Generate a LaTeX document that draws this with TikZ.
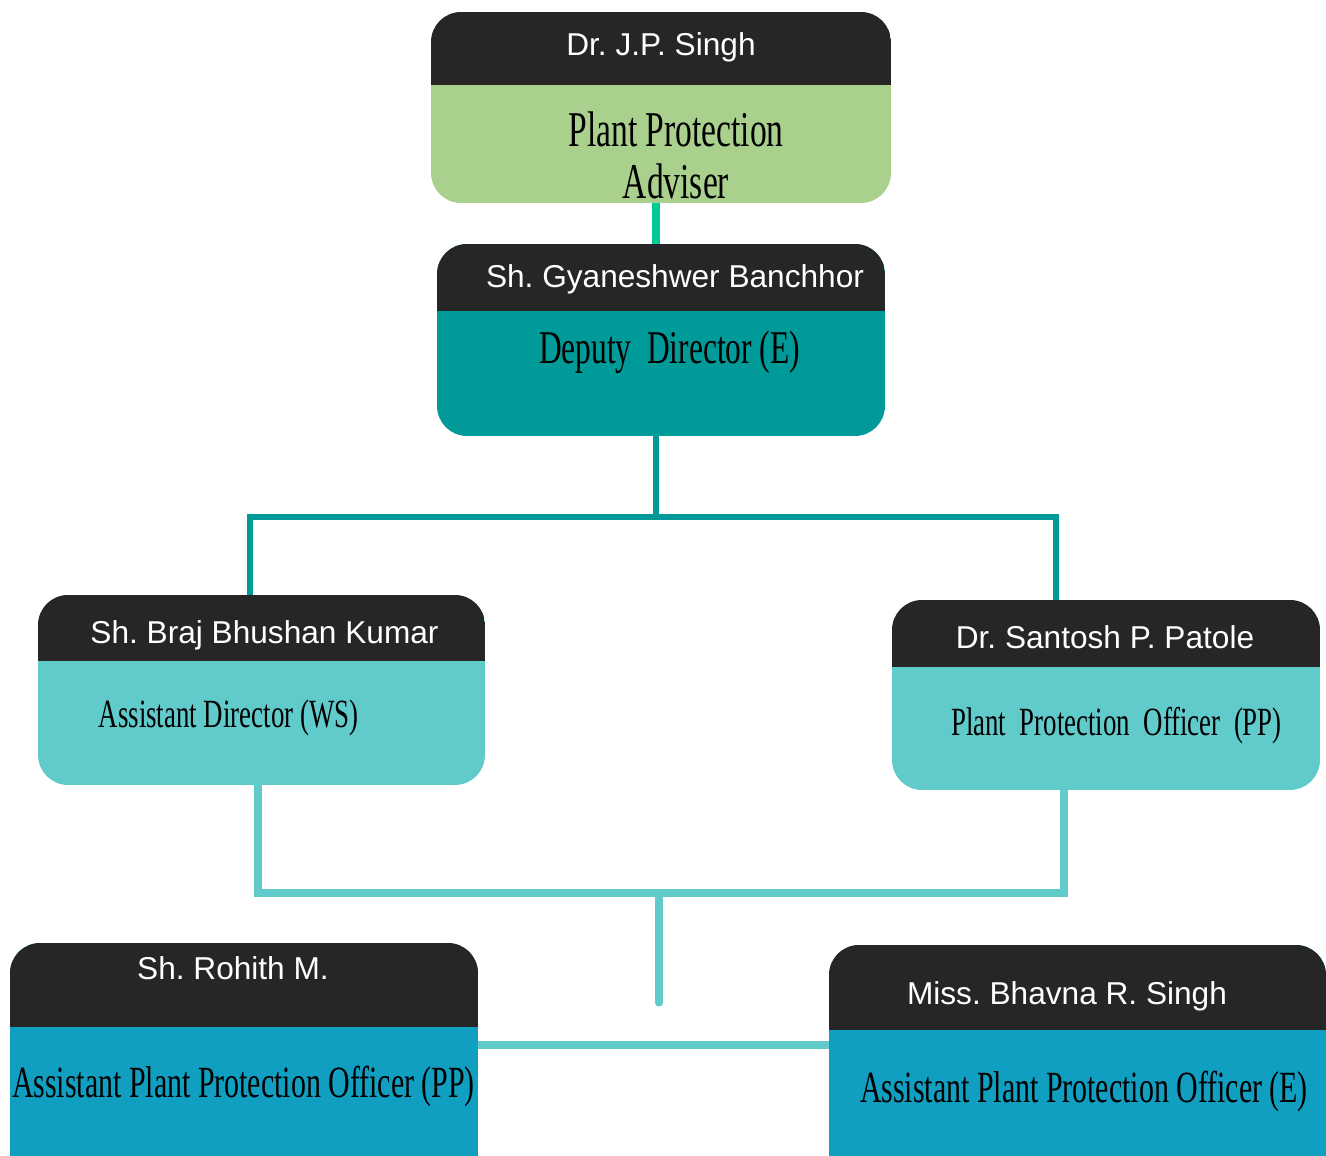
\documentclass[tikz,border=0pt]{standalone}
\usepackage{fontspec}
\setmainfont{Liberation Serif}
\newfontfamily\namefont{Liberation Sans}
\newfontfamily\postfont[FakeStretch=0.67]{Liberation Serif}
\usetikzlibrary{positioning,calc}
\definecolor{headgray}{HTML}{262626}
\definecolor{palegreen}{HTML}{AAD08E}
\definecolor{deepteal}{HTML}{009A99}
\definecolor{aqua}{HTML}{61CBCB}
\definecolor{seablue}{HTML}{119FC1}
\definecolor{linkgreen}{HTML}{00C896}
\frenchspacing

\begin{document}
\begin{tikzpicture}[x=0.02cm,y=-0.02cm,
  card/.style 2 args={fill=#1,rounded corners=0.6cm,inner sep=0pt,
    path picture={\fill[headgray,sharp corners] (path picture bounding box.north west) rectangle ([yshift=-#2]path picture bounding box.north east);}},
  personname/.style={text=white,font=\namefont\fontsize{18pt}{21pt}\selectfont,anchor=base,inner sep=0pt},
  posttext/.style={text=black,font=\postfont\fontsize{22.8pt}{26pt}\selectfont,anchor=base,inner sep=0pt,align=center},
  toplink/.style={draw=linkgreen,line width=4.4pt},
  darklink/.style={draw=deepteal,line width=3.6pt},
  lightlink/.style={draw=aqua,line width=4pt}]
\clip (0,0) rectangle (1326,1156);
% cards
\node[card={palegreen}{1.46cm},minimum width=9.2cm,minimum height=3.82cm] (ppa) at (661,107.5) {};
\node[card={deepteal}{1.34cm},minimum width=8.96cm,minimum height=3.84cm] (dd) at (661,340) {};
\node[card={aqua}{1.32cm},minimum width=8.94cm,minimum height=3.8cm] (ad) at (261.5,690) {};
\node[card={aqua}{1.34cm},minimum width=8.56cm,minimum height=3.8cm] (ppo) at (1106,695) {};
\node[card={seablue}{1.68cm},minimum width=9.36cm,minimum height=5cm] (appop) at (244,1068) {};
\node[card={seablue}{1.7cm},minimum width=9.94cm,minimum height=5cm] (appoe) at (1077.5,1070) {};
% names and posts
\node[personname] (jps) at (661,55) {Dr. J.P. Singh};
\node[posttext,font=\postfont\fontsize{28.5pt}{29.5pt}\selectfont] (jpspost) at (676,198) {Plant Protection\\Adviser};
\node[personname] (gb) at (675,287) {Sh. Gyaneshwer Banchhor};
\node[posttext,font=\postfont\fontsize{26.7pt}{28pt}\selectfont] (gbpost) at (669.5,363) {Deputy\ \ Director (E)};
\node[personname] (bbk) at (264.5,643) {Sh. Braj Bhushan Kumar};
\node[posttext] (bbkpost) at (228.5,727) {Assistant Director (WS)};
\node[personname] (spp) at (1105,648) {Dr. Santosh P. Patole};
\node[posttext] (spppost) at (1116.5,735) {Plant\ \ Protection\ \ Officer\ \ (PP)};
\node[personname] (rm) at (233,979) {Sh. Rohith M.};
\node[posttext,font=\postfont\fontsize{25.4pt}{26pt}\selectfont] (rmpost) at (243.5,1097) {Assistant Plant Protection Officer (PP)};
\node[personname] (brs) at (1067,1004) {Miss. Bhavna R. Singh};
\node[posttext,font=\postfont\fontsize{25.4pt}{26pt}\selectfont] (brspost) at (1084,1102) {Assistant Plant Protection Officer (E)};
% connectors
\coordinate (busM) at (656,517);
\coordinate (busL) at (250,517);
\coordinate (busR) at (1056,517);
\coordinate (lowL) at (258,893);
\coordinate (lowM) at (659,893);
\coordinate (lowR) at (1064,893);
\coordinate (stub) at (659,1003);
\coordinate (mid) at (659,1045);
\draw[toplink] (ppa.south -| busM) -- (dd.north -| busM);
\draw[darklink] (dd.south -| busM) -- (busM);
\draw[darklink] (ad.north -| busL) |- (busR) -- (ppo.north -| busR);
\draw[lightlink] (ad.south -| lowL) |- (lowR) -- (ppo.south -| lowR);
\draw[lightlink,line cap=round] (lowM) -- (stub);
\draw[lightlink] (appop.east |- mid) -- (appoe.west |- mid);
\end{tikzpicture}
\end{document}
